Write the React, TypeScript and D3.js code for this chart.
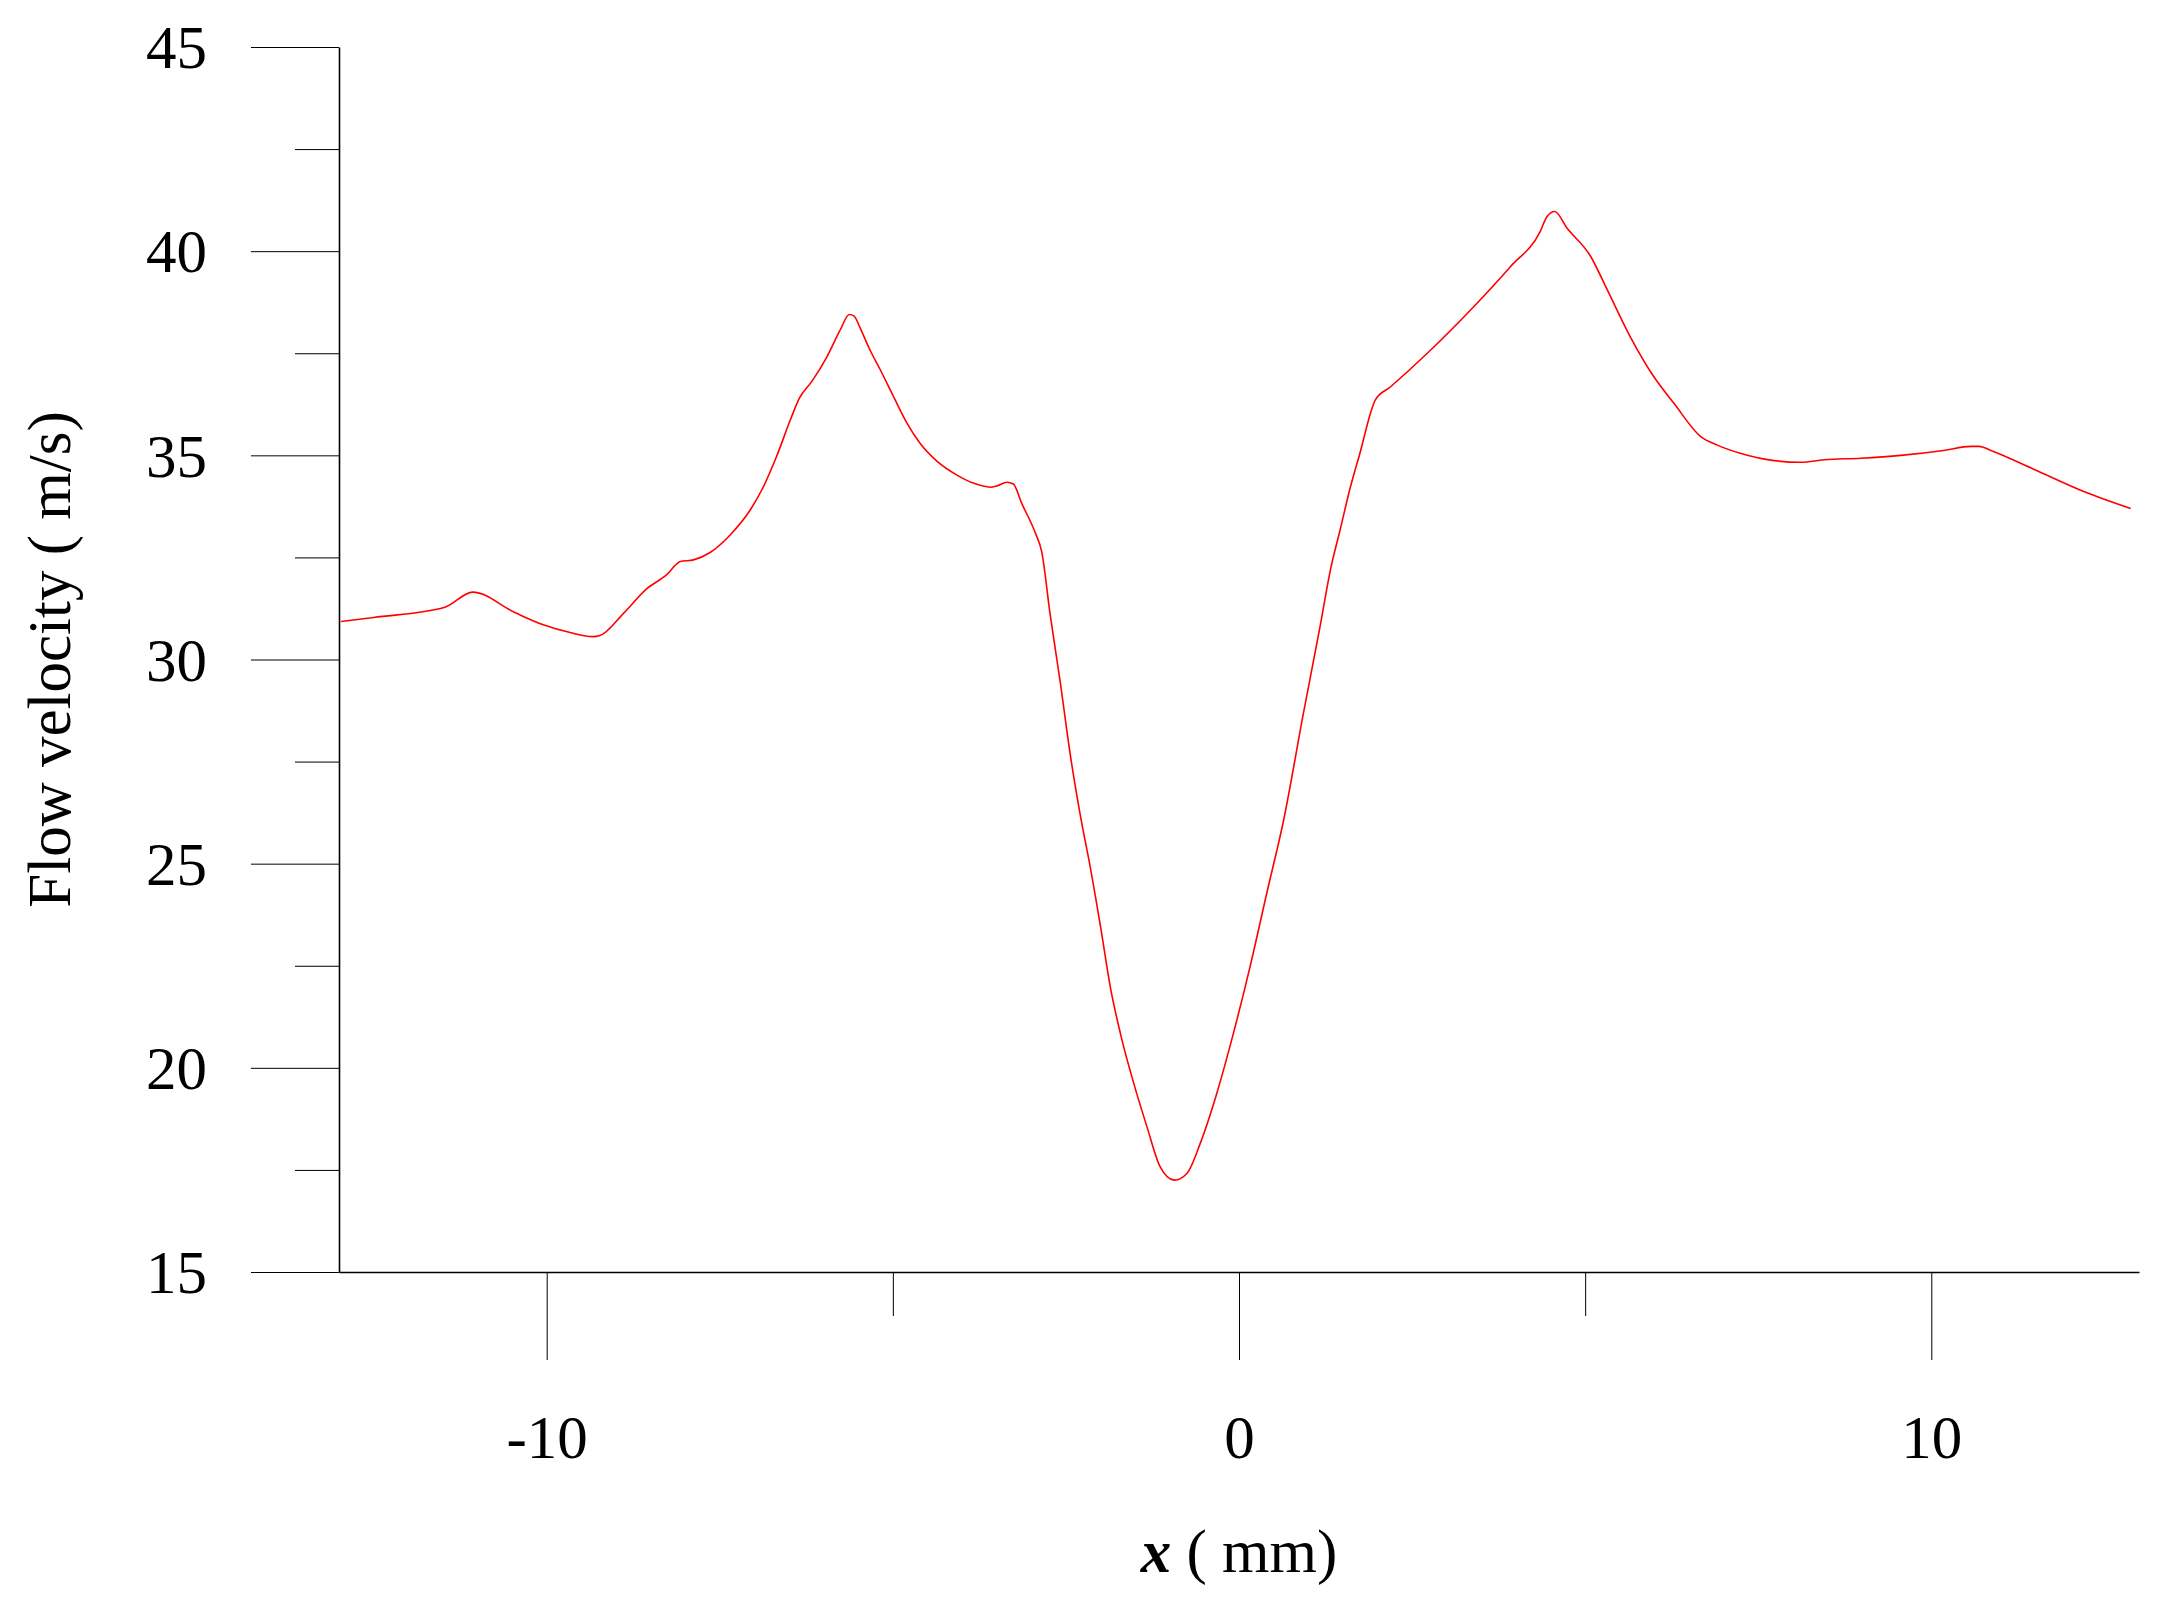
import React, { useEffect, useRef } from 'react';
import * as d3 from 'd3';

// Velocity profile
const xValues = [
  -12.97, -12.5, -11.47, -11.07, -10.46, -10.05, -9.66, -9.33, -9.24, -8.89,
  -8.55, -8.27, -8.07, -7.88, -7.64, -7.35, -7.06, -6.87, -6.68, -6.48,
  -6.35, -6.17, -5.95, -5.76, -5.63, -5.56, -5.47, -5.33, -5.18, -4.99,
  -4.8, -4.61, -4.36, -4.08, -3.84, -3.59, -3.5, -3.35, -3.26, -3.14,
  -2.94, -2.85, -2.73, -2.58, -2.44, -2.28, -2.15, -2.0, -1.86, -1.69,
  -1.52, -1.33, -1.14, -0.935, -0.75, -0.56, -0.32, -0.08, 0.16, 0.4,
  0.645, 0.93, 1.17, 1.32, 1.46, 1.61, 1.74, 1.97, 2.19, 2.72,
  3.39, 3.92, 4.35, 4.45, 4.56, 4.74, 5.08, 5.32, 5.65, 5.99,
  6.28, 6.67, 6.91, 7.24, 7.73, 8.11, 8.45, 8.98, 9.56, 10.18,
  10.57, 10.69, 10.86, 11.48, 12.21, 12.88,
];
const velocity = [
  30.93, 31.03, 31.28, 31.65, 31.15, 30.85, 30.66, 30.56, 30.58, 31.13,
  31.74, 32.07, 32.4, 32.44, 32.62, 33.05, 33.66, 34.23, 34.97, 35.87,
  36.4, 36.81, 37.42, 38.07, 38.45, 38.41, 38.11, 37.58, 37.09, 36.44,
  35.8, 35.3, 34.85, 34.52, 34.32, 34.22, 34.25, 34.34, 34.3, 33.83,
  33.09, 32.64, 31.13, 29.42, 27.7, 26.07, 24.93, 23.46, 21.99, 20.68,
  19.62, 18.56, 17.58, 17.25, 17.42, 18.15, 19.38, 20.85, 22.48, 24.27,
  26.07, 28.68, 30.8, 32.19, 33.17, 34.23, 35.01, 36.36, 36.68, 37.5,
  38.64, 39.62, 40.48, 40.85, 40.97, 40.56, 39.87, 39.05, 37.91, 36.93,
  36.28, 35.46, 35.25, 35.05, 34.87, 34.83, 34.89, 34.93, 35.0, 35.12,
  35.22, 35.22, 35.12, 34.66, 34.11, 33.7,
];

const xMajorTicks = [-10, 0, 10];
const xMinorTicks = [-5, 5];
const yMajorTicks = [15, 20, 25, 30, 35, 40, 45];
const yMinorTicks = [17.5, 22.5, 27.5, 32.5, 37.5, 42.5];

const width = 2175;
const height = 1608;
const margin = { left: 339, right: 36, top: 47, bottom: 336 };
const font = '"Liberation Serif", "Times New Roman", serif';
const fontSize = 61;

export default function App() {
  const xAxisRef = useRef<SVGGElement>(null);
  const xMinorRef = useRef<SVGGElement>(null);
  const yAxisRef = useRef<SVGGElement>(null);
  const yMinorRef = useRef<SVGGElement>(null);

  const drawWidth = width - margin.left - margin.right;
  const drawHeight = height - margin.top - margin.bottom;

  const xScale = d3.scaleLinear().domain([-13, 13]).range([0, drawWidth]);
  const yScale = d3.scaleLinear().domain([15, 45]).range([drawHeight, 0]);

  const points: [number, number][] = xValues.map((x, i) => [x, velocity[i]]);
  const line = d3.line<[number, number]>()
    .x((d) => xScale(d[0]))
    .y((d) => yScale(d[1]))
    .curve(d3.curveMonotoneX);

  useEffect(() => {
    // plain hyphen for negatives, as in the original
    const xAxis = d3.axisBottom(xScale).tickValues(xMajorTicks).tickSize(88).tickSizeOuter(0).tickFormat((d) => String(d));
    const xMinor = d3.axisBottom(xScale).tickValues(xMinorTicks).tickSize(44).tickSizeOuter(0).tickFormat(() => '');
    const yAxis = d3.axisLeft(yScale).tickValues(yMajorTicks).tickSize(88).tickSizeOuter(0).tickPadding(44);
    const yMinor = d3.axisLeft(yScale).tickValues(yMinorTicks).tickSize(44).tickSizeOuter(0).tickFormat(() => '');

    const gx = d3.select(xAxisRef.current!).call(xAxis);
    d3.select(xMinorRef.current!).call(xMinor).select('.domain').remove();
    const gy = d3.select(yAxisRef.current!).call(yAxis);
    d3.select(yMinorRef.current!).call(yMinor).select('.domain').remove();

    [gx, gy, d3.select(xMinorRef.current!), d3.select(yMinorRef.current!)].forEach((g) => {
      g.attr('font-family', null).attr('font-size', null);
      g.select('.domain').attr('stroke', '#000').attr('stroke-width', 1.6);
      g.selectAll('.tick line').attr('stroke', '#000').attr('stroke-width', 1);
      g.selectAll('.tick text')
        .attr('fill', '#000')
        .style('font-family', font)
        .style('font-size', `${fontSize}px`);
    });

    gx.selectAll('.tick text').attr('y', 186).attr('dy', 0);
    gy.selectAll('.tick text').attr('dy', '0.34em');
  }, []);

  return (
    <div style={{ position: 'absolute', left: 0, top: 0 }}>
      <svg width={width} height={height} style={{ display: 'block', background: '#fff' }}>
        <g transform={`translate(${margin.left}, ${margin.top})`}>
          <path d={line(points) ?? ''} fill="none" stroke="#FF0000" strokeWidth={1.6} />
        </g>

        {/* Axes */}
        <g ref={xAxisRef} transform={`translate(${margin.left}, ${height - margin.bottom})`} />
        <g ref={xMinorRef} transform={`translate(${margin.left}, ${height - margin.bottom})`} />
        <g ref={yAxisRef} transform={`translate(${margin.left}, ${margin.top})`} />
        <g ref={yMinorRef} transform={`translate(${margin.left}, ${margin.top})`} />

        <text
          x={margin.left + drawWidth / 2}
          y={1572}
          textAnchor="middle"
          style={{ fontFamily: font, fontSize: `${fontSize}px` }}
        >
          <tspan fontStyle="italic" fontWeight="bold">x</tspan>
          <tspan> ( mm)</tspan>
        </text>
        <text
          transform={`translate(70, ${margin.top + drawHeight / 2}) rotate(-90)`}
          textAnchor="middle"
          style={{ fontFamily: font, fontSize: `${fontSize}px` }}
        >
          Flow velocity ( m/s)
        </text>
      </svg>
    </div>
  );
}
